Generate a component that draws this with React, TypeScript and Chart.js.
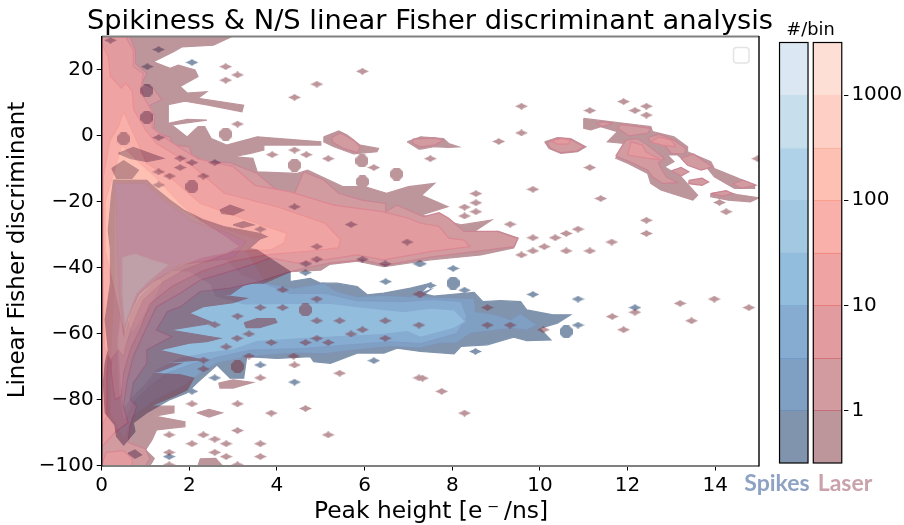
import React, { useEffect, useRef } from "react";
import { Chart, registerables } from "chart.js";

Chart.register(...registerables);

const titleText = "Spikiness & N/S linear Fisher discriminant analysis";
const xLabel = "Peak height [e\u2009⁻\u2009/ns]";
const yLabel = "Linear Fisher discriminant";
const barTitle = "#/bin";
const barCategories = ["Spikes", "Laser"];
const barTicks = [1, 10, 100, 1000];
const barEdges = [0.3162, 1, 3.162, 10, 31.62, 100, 316.2, 1000, 3162];

const laserBar = ["#bd969c", "#d29ba0", "#e29c9f", "#f0a3a3", "#f9b0aa", "#ffc0b4", "#fecfc5", "#fddfd6"];
const spikeBar = ["#8194ae", "#7f9fc3", "#86acd2", "#93bddd", "#a2c8e2", "#afd2e8", "#c7dfed", "#dbe8f3"];
const laserBarLine = ["#bd969c", "#c4707c", "#d4747a", "#e67c7c", "#f28c82", "#fa9f8e", "#fcb4a2", "#fcc8b8"];
const spikeBarLine = ["#8194ae", "#6c90bc", "#6f9bc8", "#80add6", "#94bcda", "#a4c8e2", "#bcd8e8", "#cfe2ef"];
const laserFill = ["rgb(123,45,57)", "rgb(165,55,65)", "rgb(197,57,63)", "rgb(225,71,71)", "rgb(243,97,85)", "rgb(255,129,105)", "rgb(253,159,139)", "rgb(251,191,173)"];
const spikeFill = ["rgb(3,41,93)", "rgb(0,63,135)", "rgb(13,89,165)", "rgb(39,123,187)", "rgb(69,145,197)", "rgb(95,165,209)", "rgb(143,191,219)", "rgb(183,209,231)", "rgb(0,47,167)", "rgb(0,127,207)"];
const laserLine = ["rgb(123,45,57)", "rgb(150,10,40)", "rgb(185,15,40)", "rgb(215,30,40)", "rgb(235,60,50)", "rgb(250,90,70)", "rgb(252,130,100)", "rgb(252,160,135)"];
const spikeLine = ["rgb(3,41,93)", "rgb(0,40,110)", "rgb(0,60,140)", "rgb(15,90,165)", "rgb(40,120,180)", "rgb(70,145,195)", "rgb(110,170,205)", "rgb(150,190,220)", "rgb(0,30,120)", "rgb(0,60,150)"];

type P = [number, number];

const laser0Main: P[] = [[0,30],[2.95,30],[2.55,27.5],[1.83,27],[1.64,25.5],[1.18,22.5],[1.56,20.5],[1.75,21.5],[2.13,20],[2.2,18],[1.79,15],[1.95,13],[2.4,13.4],[2.2,11.4],[3.24,9.3],[3.2,7.3],[2.4,9.4],[1.9,10.5],[1.52,9.5],[1.52,3.8],[1.95,5],[2.4,4.8],[1.6,3.3],[1.95,-0.3],[2.2,2.8],[2.35,2.8],[2.5,-0.8],[2.85,-2.8],[3.55,-0.3],[5,-1.8],[5,-2.8],[3.7,-2.8],[3.7,-4.3],[3.4,-5.3],[3,-6.3],[3.45,-6.8],[3.55,-10.9],[4.45,-11.4],[4.7,-10.4],[5.5,-15.4],[6,-15.4],[6.5,-17.4],[7,-15.4],[7.6,-14.4],[7.3,-18],[7.9,-21.5],[7.3,-24],[8.2,-27],[8.9,-25.5],[8.45,-29.5],[9.05,-29],[9.5,-31],[9.4,-34],[8.65,-36.1],[7.5,-37.6],[6.44,-39.7],[5.83,-38],[5.2,-39],[5,-40.7],[4.3,-41.2],[3.7,-44.7],[3.3,-44.7],[2.93,-48.2],[2.33,-47.7],[3.3,-49.3],[3,-50.6],[2.32,-51.8],[2,-53.8],[2.55,-56.8],[1.56,-58.9],[2.7,-61.4],[2.4,-62.4],[2,-62.9],[1.3,-65],[2.3,-68],[1.05,-69],[1.8,-69],[1.3,-71.5],[1.05,-72],[1.8,-72.5],[2.1,-73.5],[1.95,-77],[1.65,-79],[1.1,-82],[1.65,-82],[1.65,-84],[1.2,-85],[1.9,-86.7],[1.9,-88.2],[1.25,-89.2],[1.15,-92.2],[1,-95.3],[1.2,-97.8],[1.15,-99],[1.1,-100],[0,-100]];
const laser0Wide: P[] = [[3.25,-56.7],[3.55,-55.4],[3.95,-55.4],[4,-56.6],[3.6,-58.2],[3.3,-58.2]];
const laser0Low1: P[] = [[2.67,-75],[3,-74],[3.45,-74.8],[3,-76.5],[2.7,-76.5]];
const laser0Low2: P[] = [[2.17,-84],[2.45,-83],[2.75,-84],[2.45,-85.3]];
const laser0Low3: P[] = [[2.2,-100],[2.25,-98],[2.6,-97.8],[2.75,-100]];
const laser0Isle7: P[] = [[6.97,-1.8],[7.28,-0.3],[7.8,-0.8],[7.92,-2.3],[8.15,-3.3],[7.92,-3.5],[7.58,-3.3],[7.28,-4],[7.24,-4]];
const laser0Isle5: P[] = [[5.07,-0.3],[5.41,1.5],[5.6,0.3],[5.9,-2.8],[6.32,-3.8],[6.28,-4.8],[5.75,-5.5],[5.3,-3.3],[5.07,-1.8]];
const laser0Isle10: P[] = [[10.11,-1.8],[10.4,-0.5],[10.7,-0.8],[11.05,-3.3],[10.86,-4.8],[10.48,-5.3],[10.21,-3.8]];
const laser0Right: P[] = [[11,5.3],[11.92,3.8],[12.53,2.8],[12.57,1.3],[13.06,-0.3],[13.37,-3.3],[13.37,-4.8],[13.9,-7.8],[13.98,-9.9],[14.9,-14.9],[14.9,-15.9],[14.44,-15.9],[13.98,-12.4],[13.83,-9.9],[13.37,-8.3],[13.14,-5.8],[12.91,-5.8],[13.06,-7.8],[12.84,-9.4],[13.22,-12.4],[13.6,-18],[13.49,-19.5],[12.76,-16.4],[12.53,-14.4],[12.46,-11.4],[12,-8.3],[11.73,-6.8],[11.92,-2.3],[11.54,-1.8],[11.77,1.3],[11.39,2.8],[11.16,1.8],[11,2.3]];
const laser0Strip: P[] = [[13.9,-17.5],[14.2,-16.8],[14.5,-17.8],[15,-18.8],[14.8,-20],[14.3,-19.5],[13.9,-18.5]];

const laser1Main: P[] = [[0,30],[0.65,30],[0.77,26],[0.77,22],[1.03,19],[0.92,16],[1.18,14.4],[1.37,11],[0.95,8.3],[1.22,6.3],[1.18,0.8],[1.56,-0.3],[1.64,-2.8],[2,-3.3],[2.06,-5.8],[2.36,-7.8],[2.93,-8.1],[3.55,-11.4],[4.08,-17.4],[4.38,-18],[4.61,-10.9],[5.07,-13.4],[5.41,-17.4],[5.94,-19.5],[6.48,-20.5],[6.48,-23],[6.74,-21],[7.35,-24.5],[7.7,-23.3],[7.92,-25],[8.27,-29],[9.03,-29],[9.5,-31.1],[9.41,-33.6],[7.5,-36.8],[6.48,-39.2],[5.94,-37.6],[5.2,-38.6],[4.6,-40.2],[4.2,-41.6],[3.6,-44.2],[2.93,-46.2],[2.25,-47.2],[1.8,-51.8],[1.5,-53.3],[1.25,-58.9],[1.6,-60.9],[1.03,-64.9],[1.03,-69],[0.72,-75],[0.65,-80],[0.8,-82],[0.65,-88],[0.6,-93],[1,-95],[1.1,-98],[1,-100],[0,-100]];
const laser1Isle10: P[] = [[10.15,-2],[10.45,-0.7],[10.7,-1],[11,-3.3],[10.85,-4.6],[10.48,-5.1],[10.25,-3.8]];
const laser1Isle5: P[] = [[5.26,-0.3],[5.45,0.9],[5.75,-1.3],[5.9,-3.3],[5.83,-5.1],[5.52,-3.8],[5.26,-1.8]];
const laser1Isle7: P[] = [[7.1,-1],[7.6,-0.6],[7.8,-1.3],[7.6,-2.8],[7.28,-3.3],[7.1,-2.3]];
const laser1RightA: P[] = [[11.73,-6.1],[11.96,-1.3],[12.23,-0.8],[12.46,-2.8],[12.84,-6.8],[12.7,-8.3],[12.88,-12.4],[13.14,-14.2],[12.8,-14.4],[12.57,-12.4],[12.46,-10.4],[12.04,-7.8]];
const laser1RightB: P[] = [[12.46,-0.5],[12.72,0.5],[13.06,-1.3],[13.33,-3.8],[13.3,-5.5],[13,-5.3],[12.84,-2.8],[12.53,-1.8]];
const laser1RightC: P[] = [[11.77,2.3],[11.85,3.5],[12.53,2.3],[12.46,0.8],[12.04,0]];
const laser1RightD: P[] = [[13.22,-6.8],[13.5,-5.5],[13.94,-9.4],[13.68,-10.4],[13.37,-8.9]];
const laser1RightE: P[] = [[14.4,-14.6],[14.63,-13.4],[14.93,-14.9],[14.6,-15.9]];
const laser1RightF: P[] = [[11.28,3.8],[11.47,4.3],[11.66,3.8],[11.43,2.8]];
const laser1RightG: P[] = [[13,-10.6],[13.22,-9.6],[13.4,-10.9],[13.22,-12.2]];
const laser1RightH: P[] = [[13.9,-17.5],[14.25,-16.6],[14.4,-17.5],[14.17,-18.3]];
const laser1RightI: P[] = [[13.4,-13.5],[13.7,-12.8],[13.85,-14],[13.7,-15],[13.4,-14.5]];

const laser2Main: P[] = [[0,30],[0.55,30],[0.72,26],[0.72,21],[0.95,19],[0.9,15],[0.95,12],[1.15,7.5],[1.15,2.5],[1.6,-2],[2.2,-7],[3,-9.3],[3.5,-15],[4.3,-17],[5.3,-21],[6.4,-23],[7,-25],[7.28,-26.5],[7.7,-27.5],[7.92,-31],[8.27,-31.6],[8.4,-33.6],[7.5,-35.1],[6.44,-37.6],[5.83,-36.1],[5.07,-37.6],[4.46,-38.6],[3.85,-37],[3.54,-38.6],[2.78,-41.7],[2.25,-43.7],[1.8,-47.7],[1.25,-51.8],[1.03,-57.9],[0.72,-67],[0.57,-75],[0.5,-82],[0.6,-87],[0.3,-90],[0.04,-93.8],[0,-94]];
const laser2Low: P[] = [[0,-100],[0.1,-96],[0.5,-95.5],[0.7,-98],[0.7,-100]];
const laser2RightA: P[] = [[12,-5.8],[12.08,-1.8],[12.34,-2.8],[12.42,-4.8],[12.76,-7.3],[12.46,-6.8]];
const laser2RightB: P[] = [[12.53,-1.8],[12.72,-0.3],[13,-1.3],[13.1,-3.3],[12.8,-2.8]];
const laser2Isle10: P[] = [[10.25,-1.5],[10.5,-0.8],[10.7,-1.3],[10.65,-2.5],[10.4,-2.5]];

const laser3Main: P[] = [[0,28],[0.15,24],[0.2,18],[0.45,14.5],[0.55,16],[0.7,13.5],[0.73,8],[1,1.8],[1.25,-2.3],[2,-8.3],[2.8,-17.4],[4,-21.5],[5.1,-26.5],[5.45,-31.5],[5.4,-34],[4.7,-35],[3.8,-36],[3,-38],[2.3,-41],[1.6,-45.7],[1.1,-51],[0.9,-58],[0.65,-65],[0.5,-72],[0.45,-79],[0.3,-80],[0.22,-72],[0.2,-60],[0.12,-72],[0.12,-85],[0,-88]];
const laser4Main: P[] = [[0.5,7.3],[0.76,-0.3],[1.03,-8.3],[1.64,-13.4],[2.25,-20.5],[3.54,-26.5],[4.23,-29.6],[4.15,-32.6],[3.85,-34.6],[3,-35.1],[2.48,-37.6],[1.87,-40.7],[1.37,-44.7],[0.95,-49.8],[0.72,-56.8],[0.57,-62.9],[0.5,-67],[0.38,-65],[0.2,-68],[0.06,-64],[0.03,-40],[0.04,-12],[0.19,-1.3],[0.38,2.8]];
const laser5Main: P[] = [[0.46,-2.8],[0.88,-8.3],[1.26,-12.9],[1.79,-20.5],[2.25,-25.5],[2.86,-30.6],[3.16,-33.6],[2.86,-35.6],[2.32,-37.1],[1.79,-39.7],[1.26,-43.7],[0.88,-48.8],[0.65,-54.8],[0.53,-60.9],[0.42,-54.8],[0.25,-44.7],[0.08,-34.6],[0.08,-20],[0.27,-11.4]];

const laserDots: P[] = [[2.83,21],[3.1,18.5],[2.83,16.9],[4.91,15.7],[5.95,19.6],[4.4,11.7],[3.1,3.6],[3.89,-5.7],[4.4,-4.3],[4.67,-5.7],[5.17,-6.9],[6.21,-9.6],[9.58,9],[9.58,0.9],[9.06,-1.7],[7.5,-6.9],[11.14,7.7],[11.91,10.4],[12.17,7.7],[12.43,9],[12.43,6.3],[14.97,-6.9],[11.14,-9.6],[9.84,-16.2],[11.39,-19],[8.54,-17.5],[8.54,-20.3],[8.28,-21.6],[8.54,-23],[8.28,-24.3],[9.32,-26.8],[14.25,-23],[14.1,-20.2],[12.43,-25.6],[12.43,-29.6],[10.87,-28.3],[10.6,-29.6],[10.35,-30.9],[9.84,-30.9],[10.1,-33.6],[11.64,-32.2],[9.58,-36.1],[9.84,-34.9],[10.6,-34.9],[11.14,-34.9],[11.65,-54.8],[12.17,-53.5],[13.2,-50.8],[13.98,-49.5],[14.77,-52.1],[13.46,-56.1],[11.91,-58.8],[7.32,-73.5],[7.76,-77.5],[8.28,-84.1],[10.08,-58.8],[8.8,-52.1],[3.62,-73.4],[5.43,-72],[7.24,-73.4],[4.4,-69.5],[3.1,-81.3],[4.65,-82.7],[3.87,-84.1],[3.1,-89.4],[5.17,-90.7],[1.54,-90.7],[2.32,-90.7],[2.58,-92],[2.06,-93.4],[2.84,-93.4],[3.62,-93.4],[1.54,-96],[2.58,-96],[2.84,-97.3],[3.62,-97.3],[3.1,-99.8],[1.54,-99.8],[2.06,-81.3],[3.62,-52.1],[4.13,-52.1],[4.91,-49.5],[4.13,-46.7],[4.91,-56.1],[5.43,-56.1],[6.47,-56.1],[7.24,-57.4],[5.95,-58.8],[5.69,-60.1],[4.91,-61.4],[6.47,-61.4],[3.87,-62.7],[4.65,-62.7],[5.17,-62.7],[3.09,-61.4],[3.36,-60.1],[2.84,-64],[4.38,-66.8],[3.36,-66.8],[2.32,-68],[2.32,-70.7],[3.1,-54.7],[2.58,-57.3],[7.24,-48],[8.8,-57.4],[9.32,-57.4],[7.28,-48]];
const laserBlobs: P[] = [[2.83,0.5],[5.94,-7.6],[6.73,-11.6],[4.4,-8.9],[5.95,-13.9],[4.65,-52.8],[3.1,-70]];

const spike0Main: P[] = [[0.27,-13.4],[1.03,-13.5],[1.18,-15.4],[1.56,-19.5],[1.87,-22.5],[2.33,-25.5],[2.78,-27.5],[3.62,-29.6],[3.77,-30.6],[3.09,-33.6],[3.54,-34.6],[4,-38.6],[4.3,-41.2],[4.3,-44.2],[4.76,-43.2],[5,-44.7],[5.37,-44.7],[5.83,-45.7],[6.06,-48.2],[6.44,-47.7],[7.05,-46.2],[7.5,-44.7],[7.28,-47.7],[7.58,-48.6],[8.5,-47.5],[8.7,-50.3],[9.1,-50],[9.56,-50.3],[9.7,-52.8],[10.3,-54.3],[10.7,-54.3],[10.4,-56.8],[10,-58.4],[10.25,-61.9],[9.7,-62.1],[9.4,-61.1],[8.8,-63.4],[8.2,-63.9],[8.04,-66.1],[7.28,-65.4],[6.74,-64.4],[6.44,-65.9],[5.83,-65.9],[5.22,-69],[4.84,-68.5],[4.76,-67],[4,-67.5],[3.31,-67],[3.24,-73.5],[2.93,-73.5],[2.63,-69.5],[2.17,-75],[1.94,-78],[1.56,-80],[1.03,-84],[0.72,-87],[0.76,-89.7],[0.5,-93.8],[0.34,-91.2],[0.3,-87.7],[0.08,-84],[0.04,-75],[0.08,-69],[0.15,-65],[0.08,-55.8],[0.2,-44.7],[0.2,-34.6],[0.15,-28.6],[0.22,-18.5]];
const spike0IsleA: P[] = [[0.38,-5.3],[0.72,-3.5],[1.41,-6.8],[1.03,-7.8],[0.65,-6.8]];
const spike0IsleB: P[] = [[0.23,-9.9],[0.5,-7.5],[0.84,-10.4],[0.69,-12.9],[0.34,-12.9]];
const spike0IsleC: P[] = [[2.7,-22.5],[2.93,-21],[3.24,-22.5],[3,-24],[2.74,-23.5]];
const spike0IsleD: P[] = [[3,-27],[3.24,-26],[3.47,-27],[3.2,-27.8]];
const spike0IsleE: P[] = [[0.6,-96.3],[0.76,-95.3],[0.91,-96.8],[0.76,-97.8]];
const spike1Main: P[] = [[0.28,-14],[1.02,-14],[1.5,-19.8],[2.25,-25.8],[2.9,-28.6],[3.6,-31.4],[3.3,-35],[3.77,-44.7],[4.38,-46.2],[5.07,-44.7],[5.37,-47.2],[5.83,-48.8],[6.44,-48.3],[7.05,-48.8],[7.5,-46.7],[7.28,-48.8],[8.5,-49.3],[8.53,-53.3],[9.03,-54.3],[9.33,-55.8],[9.56,-53.8],[9.94,-57.4],[9.7,-58.9],[9.37,-58.4],[8.42,-59.9],[8.1,-62.9],[7.73,-62.9],[7.28,-64.4],[6.6,-63.9],[5.83,-64.9],[5.07,-66.1],[4.46,-65.9],[3.31,-67],[2.63,-69],[2.25,-72],[1.87,-76],[1.25,-80],[0.72,-85],[0.5,-92.2],[0.19,-84.2],[0.19,-70],[0.23,-60],[0.28,-44.7],[0.28,-34.6],[0.28,-18.5]];
const spike2Main: P[] = [[0.42,-19.5],[0.83,-19],[1.29,-22.5],[1.67,-27.6],[2.36,-34.6],[2.9,-38],[3.2,-42],[3.7,-44.7],[4.3,-47.8],[5.1,-47.8],[5.83,-50],[6.9,-50.3],[7.5,-49.6],[8.2,-50.2],[8.34,-55],[8.1,-60],[7.28,-63],[6.6,-62.5],[5.6,-63.5],[4.6,-64.5],[3.4,-65],[2.7,-67],[2.1,-69],[1.5,-72],[1.1,-76],[0.72,-81],[0.5,-87],[0.38,-78],[0.34,-65],[0.42,-51.8],[0.38,-44.7],[0.36,-34.6],[0.38,-25]];
const spike3Main: P[] = [[0.46,-36.7],[0.76,-35.6],[1.22,-37.7],[1.6,-40.7],[2,-41],[2.5,-45],[2.6,-48.5],[3.25,-51],[4.3,-50.8],[5.22,-50.8],[5.83,-51.8],[6.9,-53.3],[7.5,-52.3],[8.04,-52.8],[8.3,-56.3],[8.04,-58.4],[7.28,-61.1],[6.97,-59.4],[6.29,-60.4],[5.45,-60.9],[4.69,-61.4],[3.54,-62.4],[3,-64.9],[2.4,-65.9],[1.8,-67.5],[1.26,-71],[1.03,-75],[0.72,-79],[0.5,-83],[0.42,-76],[0.36,-62],[0.46,-51.8],[0.42,-44]];
const spike4Main: P[] = [[0.6,-42],[0.9,-40],[1.4,-44],[1.2,-50],[1,-54],[0.7,-60],[0.55,-55]];
const spikeGreyOuter: P[] = [[0.3,-14.5],[1,-14.5],[1.45,-20],[2.1,-26],[2.8,-29],[3.3,-32],[3,-37],[2.4,-38],[1.8,-39],[1.2,-44],[0.85,-48],[0.6,-55],[0.5,-60],[0.42,-50],[0.36,-35],[0.33,-20]];
const spikeGreyInner: P[] = [[0.46,-36.7],[0.76,-35.6],[1.22,-37.7],[1.55,-39],[1.1,-44],[0.8,-48],[0.6,-55],[0.52,-58],[0.46,-48]];

const spikeDots: P[] = [[2.06,22.3],[1.04,21],[1.3,-0.5],[1.79,-6.8],[2.06,-8.1],[2.58,-8.1],[1.79,-9.6],[2.32,-12.2],[4.4,-21.5],[5.69,-26.9],[6.97,-32.2],[1.3,26.2],[0.2,29],[3.62,-28.3],[1.3,-10.9],[1.55,-12.2],[1.3,-14.9],[4.91,-33.6],[4.65,-41.5],[6.48,-44.2],[7.24,-38.8],[6.47,-38.8],[3.62,-69.5],[2.58,-73.4],[4.4,-74.7],[6.21,-68.2],[2.06,-77.5],[1.54,-97.3],[4.91,-37.4],[5.95,-37.4],[4.66,-38.8],[8.02,-40.2],[7.28,-38.8],[8.28,-46.8],[9.84,-48.1],[10.87,-49.5],[12.17,-52.1],[10.87,-57.4],[8.53,-65.4],[7.5,-45.4]];
const spikeBlobs: P[] = [[1.03,13.7],[1.03,5.6],[0.5,-0.9],[2.06,-15.4],[8.02,-44.7],[10.6,-59.4]];

const laserBands: [number, P[]][] = [
  [0, laser0Main],[0, laser0Wide],[0, laser0Low1],[0, laser0Low2],[0, laser0Low3],[0, laser0Isle7],[0, laser0Isle5],[0, laser0Isle10],[0, laser0Right],[0, laser0Strip],
  [1, laser1Main],[1, laser1Isle10],[1, laser1Isle5],[1, laser1Isle7],[1, laser1RightA],[1, laser1RightB],[1, laser1RightC],[1, laser1RightD],[1, laser1RightE],[1, laser1RightF],[1, laser1RightG],[1, laser1RightH],[1, laser1RightI],
  [2, laser2Main],[2, laser2Low],[2, laser2RightA],[2, laser2RightB],[2, laser2Isle10],
  [3, laser3Main],[4, laser4Main],[5, laser5Main],
];
const spikeBands: [number, P[]][] = [
  [0, spike0Main],[0, spike0IsleA],[0, spike0IsleB],[0, spike0IsleC],[0, spike0IsleD],[0, spike0IsleE],
  [1, spike1Main],[2, spike2Main],[3, spike3Main],[4, spike4Main],[8, spikeGreyOuter],[9, spikeGreyInner],
];

function stamp(w: number, h: number, color: string, round: boolean) {
  const c = document.createElement("canvas");
  c.width = w;
  c.height = h;
  const g = c.getContext("2d")!;
  g.fillStyle = color;
  g.beginPath();
  if (round) {
    g.moveTo(w * 0.3, 0);
    g.lineTo(w * 0.7, 0);
    g.lineTo(w, h * 0.3);
    g.lineTo(w, h * 0.7);
    g.lineTo(w * 0.7, h);
    g.lineTo(w * 0.3, h);
    g.lineTo(0, h * 0.7);
    g.lineTo(0, h * 0.3);
  } else {
    g.moveTo(0, h / 2);
    g.lineTo(w * 0.35, h * 0.2);
    g.lineTo(w / 2, 0);
    g.lineTo(w * 0.65, h * 0.2);
    g.lineTo(w, h / 2);
    g.lineTo(w * 0.65, h * 0.8);
    g.lineTo(w / 2, h);
    g.lineTo(w * 0.35, h * 0.8);
  }
  g.closePath();
  g.fill();
  return c;
}

function buildDatasets(bands: [number, P[]][], fills: string[], lines: string[], dots: P[], blobs: P[]) {
  const polys = bands.map(([lvl, poly]) => ({
    data: [...poly, poly[0]],
    showLine: true,
    fill: "shape",
    backgroundColor: fills[lvl],
    borderColor: lines[lvl],
    borderWidth: 1.2,
    pointRadius: 0,
    tension: 0,
    order: 50 - lvl,
  }));
  const marks = [
    { data: dots, pointStyle: stamp(13, 7, fills[0], false), pointRadius: 5, showLine: false, order: 100 },
    { data: blobs, pointStyle: stamp(13, 13, fills[0], true), pointRadius: 5, showLine: false, order: 100 },
  ];
  return [...polys, ...marks];
}

const PLOT = { left: 101.7, right: 759, top: 37, bottom: 465.5 };
const fontFamily = "'DejaVu Sans'";

const frame = {
  id: "frame",
  afterDraw(chart: any) {
    const { ctx, chartArea: a } = chart;
    ctx.save();
    ctx.strokeStyle = "#808080";
    ctx.lineWidth = 2;
    ctx.beginPath();
    ctx.moveTo(a.left, a.top - 0.5);
    ctx.lineTo(a.right, a.top - 0.5);
    ctx.moveTo(a.left, a.bottom + 0.5);
    ctx.lineTo(a.right, a.bottom + 0.5);
    ctx.stroke();
    ctx.strokeStyle = "#000";
    ctx.lineWidth = 1.4;
    ctx.beginPath();
    ctx.moveTo(a.right, a.top - 1);
    ctx.lineTo(a.right, a.bottom + 1);
    ctx.moveTo(a.left, a.top - 1);
    ctx.lineTo(a.left, a.bottom + 1);
    ctx.stroke();
    ctx.strokeStyle = "#e4e4e4";
    ctx.lineWidth = 1.5;
    ctx.beginPath();
    ctx.roundRect(a.right - 25.5, a.top + 10.5, 15.5, 15.5, 3);
    ctx.stroke();
    ctx.fillStyle = "#000";
    ctx.textAlign = "center";
    ctx.textBaseline = "alphabetic";
    ctx.font = `27.3px ${fontFamily}`;
    ctx.fillText(titleText, 430, 29);
    ctx.font = `23.4px ${fontFamily}`;
    ctx.fillText(xLabel, 431, 518);
    ctx.font = `23px ${fontFamily}`;
    ctx.save();
    ctx.translate(24, 250);
    ctx.rotate(-Math.PI / 2);
    ctx.fillText(yLabel, 0, 0);
    ctx.restore();
    ctx.restore();
  },
};

const colorbarDecor = {
  id: "colorbarDecor",
  afterDraw(chart: any) {
    const { ctx, chartArea: a, scales } = chart;
    const bars = chart.getDatasetMeta(0).data;
    ctx.save();
    ctx.lineWidth = 1;
    bars.forEach((b: any, k: number) => {
      const lines = k === 0 ? spikeBarLine : laserBarLine;
      barEdges.slice(1, -2).forEach((edge, i) => {
        const y = Math.round(scales.y.getPixelForValue(edge)) + 0.5;
        ctx.strokeStyle = lines[Math.min(i + 1, lines.length - 1)];
        ctx.beginPath();
        ctx.moveTo(b.x - b.width / 2, y);
        ctx.lineTo(b.x + b.width / 2, y);
        ctx.stroke();
      });
    });
    ctx.strokeStyle = "#000";
    ctx.lineWidth = 1.2;
    bars.forEach((b: any) => {
      ctx.strokeRect(b.x - b.width / 2, a.top, b.width, a.bottom - a.top);
    });
    ctx.textAlign = "center";
    ctx.textBaseline = "alphabetic";
    ctx.fillStyle = "#000";
    ctx.font = `17.8px ${fontFamily}`;
    ctx.fillText(barTitle, 70.5, 35);
    ctx.font = "bold 23px Lato";
    ctx.fillStyle = "#8ea3c4";
    ctx.fillText(barCategories[0], 37, 491);
    ctx.fillStyle = "#c9a2aa";
    ctx.fillText(barCategories[1], 105, 491);
    ctx.restore();
  },
};

const tickFont = { family: fontFamily, size: 20 };

export default function App() {
  const axesRef = useRef<HTMLCanvasElement>(null);
  const laserRef = useRef<HTMLCanvasElement>(null);
  const spikeRef = useRef<HTMLCanvasElement>(null);
  const barRef = useRef<HTMLCanvasElement>(null);

  useEffect(() => {
    const axesChart = new Chart(axesRef.current!, {
      type: "scatter",
      data: { datasets: [] },
      plugins: [frame],
      options: {
        animation: false,
        responsive: false,
        layout: { padding: { left: 0, top: PLOT.top, right: 904 - PLOT.right, bottom: 0 } },
        plugins: { legend: { display: false }, tooltip: { enabled: false } },
        scales: {
          x: {
            type: "linear",
            min: 0,
            max: 15,
            afterFit: (s: any) => { s.height = 525 - PLOT.bottom; },
            grid: { drawOnChartArea: false, tickLength: 5, color: "#000" },
            border: { display: false },
            ticks: { stepSize: 2, includeBounds: false, color: "#000", font: tickFont, padding: 3, maxRotation: 0 },
          },
          y: {
            type: "linear",
            min: -100,
            max: 30,
            afterFit: (s: any) => { s.width = PLOT.left; },
            grid: { drawOnChartArea: false, tickLength: 5, color: "#000" },
            border: { display: false },
            ticks: {
              stepSize: 20,
              includeBounds: false,
              color: "#000",
              font: tickFont,
              padding: 3,
              callback: (v: any) => String(v).replace("-", "−"),
            },
          },
        },
      } as any,
    });

    const plotOptions: any = {
      animation: false,
      responsive: false,
      layout: { padding: { left: PLOT.left, top: PLOT.top, right: 904 - PLOT.right, bottom: 525 - PLOT.bottom } },
      plugins: { legend: { display: false }, tooltip: { enabled: false } },
      scales: {
        x: { type: "linear", min: 0, max: 15, display: false },
        y: { type: "linear", min: -100, max: 30, display: false },
      },
    };
    const spikeChart = new Chart(spikeRef.current!, {
      type: "scatter",
      data: { datasets: buildDatasets(spikeBands, spikeFill, spikeLine, spikeDots, spikeBlobs) as any },
      options: plotOptions,
    });
    const laserChart = new Chart(laserRef.current!, {
      type: "scatter",
      data: { datasets: buildDatasets(laserBands, laserFill, laserLine, laserDots, laserBlobs) as any },
      options: plotOptions,
    });

    const barDatasets = barEdges.slice(1).map((high, i) => ({
      data: [[barEdges[0], high], [barEdges[0], high]],
      backgroundColor: [spikeBar[i], laserBar[i]],
      borderWidth: 0,
      barPercentage: 0.844,
      categoryPercentage: 1,
    }));
    const barChart = new Chart(barRef.current!, {
      type: "bar",
      data: { labels: barCategories, datasets: barDatasets as any },
      plugins: [colorbarDecor],
      options: {
        animation: false,
        responsive: false,
        layout: { padding: { left: 36.9, top: 42.5, right: 0, bottom: 62 } },
        plugins: { legend: { display: false }, tooltip: { enabled: false } },
        scales: {
          x: { stacked: true, display: false },
          y: {
            type: "logarithmic",
            position: "right",
            bounds: "data",
            min: barEdges[0],
            max: barEdges[barEdges.length - 1],
            afterBuildTicks: (s: any) => { s.ticks = barTicks.map((value) => ({ value })); },
            afterFit: (s: any) => { s.width = 59.6; },
            grid: { drawOnChartArea: false, tickLength: 4, color: "#000" },
            border: { display: false },
            ticks: {
              autoSkip: false,
              color: "#000",
              font: tickFont,
              padding: 3,
              callback: (v: any) => String(v),
            },
          },
        },
      } as any,
    });

    return () => {
      axesChart.destroy();
      spikeChart.destroy();
      laserChart.destroy();
      barChart.destroy();
    };
  }, []);

  const base: React.CSSProperties = { position: "absolute", top: 0, display: "block" };
  return (
    <div style={{ position: "fixed", left: 0, top: 0, width: 904, height: 525, background: "#fff", overflow: "hidden" }}>
      <canvas ref={spikeRef} width={904} height={525} style={{ ...base, left: 0, opacity: 0.5 }} />
      <canvas ref={laserRef} width={904} height={525} style={{ ...base, left: 0, opacity: 0.5 }} />
      <canvas ref={axesRef} width={904} height={525} style={{ ...base, left: 0 }} />
      <canvas ref={barRef} width={164} height={525} style={{ ...base, left: 740 }} />
    </div>
  );
}
